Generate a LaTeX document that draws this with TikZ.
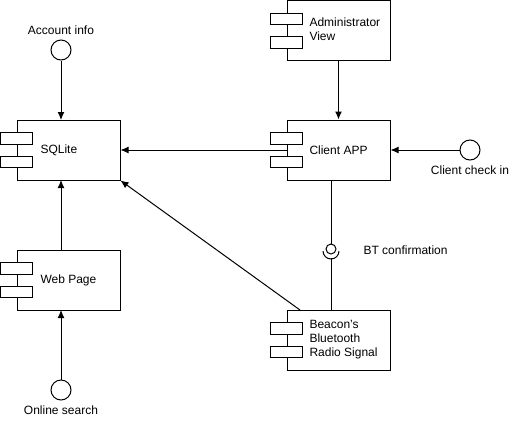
\documentclass[tikz,border=0pt]{standalone}
\usepackage{fontspec}
\setmainfont{Liberation Sans}
\usetikzlibrary{arrows.meta}
\begin{document}
\begin{tikzpicture}[x=1pt,y=-1pt,line width=1pt,
  comp/.style={draw,fill=white,minimum width=103pt,minimum height=60pt,inner sep=0pt},
  tabbox/.style={draw,fill=white,minimum width=32pt,minimum height=11.5pt,inner sep=0pt},
  iface/.style={draw,fill=white,circle,minimum size=20pt,inner sep=0pt},
  lbl/.style={font=\fontsize{12}{14}\selectfont,inner sep=0pt},
  txt/.style={font=\fontsize{12}{14}\selectfont,align=left,anchor=west,inner sep=0pt},
  arr/.style={-{Latex[length=8pt,width=7pt]}}
]
\useasboundingbox (0,0) rectangle (516,421);
% components
\node[comp] (sql) at (68.5,150) {};
\node[tabbox] (sqlt1) at (16,138.5) {};
\node[tabbox] (sqlt2) at (16,162) {};
\node[txt] (sqltxt) at (40,150) {SQLite};

\node[comp] (web) at (68.5,280) {};
\node[tabbox] (webt1) at (16,268.5) {};
\node[tabbox] (webt2) at (16,292) {};
\node[txt] (webtxt) at (40,280) {Web Page};

\node[comp] (adm) at (338.5,30.5) {};
\node[tabbox] (admt1) at (286,19) {};
\node[tabbox] (admt2) at (286,42.5) {};
\node[txt] (admtxt) at (309,29) {Administrator\\View};

\node[comp] (app) at (338.5,150) {};
\node[tabbox] (appt1) at (286,138.5) {};
\node[tabbox] (appt2) at (286,162) {};
\node[txt] (apptxt) at (309,150) {Client APP};

\node[comp] (bea) at (338.5,340) {};
\node[tabbox] (beat1) at (286,328.5) {};
\node[tabbox] (beat2) at (286,352) {};
\node[txt] (beatxt) at (309,340) {Beacon\char"0027 s\\Bluetooth\\Radio Signal};

% interfaces
\node[iface] (acc) at (61,50) {};
\node[lbl] (acclbl) at (61,30) {Account info};
\node[iface] (chk) at (470,150) {};
\node[lbl] (chklbl) at (470,170) {Client check in};
\node[iface] (onl) at (61,390) {};
\node[lbl] (onllbl) at (61,410) {Online search};

% arrows
\coordinate (sqltop) at (61,120);
\coordinate (sqlbot) at (61,180);
\coordinate (webtop) at (61,250);
\coordinate (webbot) at (61,310);
\draw[arr] (acc) -- (sqltop);
\draw[arr] (chk) -- (app.east);
\draw[arr] (onl) -- (webbot);
\draw[arr] (webtop) -- (sqlbot);
\draw[arr] (app.west) -- (sql.east);
\draw[arr] (adm.south) -- (app.north);
\coordinate (beatl) at (300,310);
\draw[arr] (beatl) -- (sql.south east);

% ball and socket
\node[draw,circle,minimum size=10pt,inner sep=0pt] (ball) at (331,249) {};
\coordinate (appb) at (331,180);
\coordinate (beab) at (331,310);
\coordinate (sockb) at (331,258);
\draw (appb) -- (ball.north);
\draw (beab) -- (sockb);
\draw (323,251) arc[start angle=180,end angle=360,radius=8pt];
\node[txt] (btlbl) at (363,250) {BT confirmation};
\end{tikzpicture}
\end{document}
